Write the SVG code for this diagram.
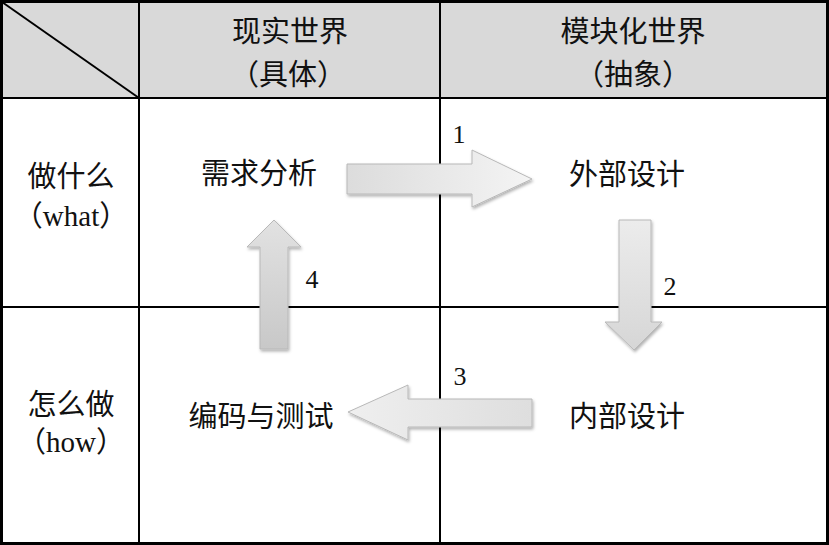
<svg xmlns="http://www.w3.org/2000/svg" width="829" height="545" viewBox="0 0 829 545">
  <style>
    .cjk { font-family: "Liberation Serif", "Noto Sans CJK SC", serif; font-size: 29px; fill: #111; text-anchor: middle; }
    .num { font-family: "Liberation Serif", serif; font-size: 26px; fill: #111; text-anchor: middle; }
    .grid { stroke: #000; stroke-width: 2; fill: none; }
    .arrow { stroke: #b8b8b8; stroke-width: 1; filter: url(#shadow); }
  </style>
  <defs>
    <linearGradient id="gH" x1="0" y1="0" x2="1" y2="0">
      <stop offset="0" stop-color="#dcdcdc"/>
      <stop offset="1" stop-color="#f4f4f4"/>
    </linearGradient>
    <linearGradient id="gHL" x1="1" y1="0" x2="0" y2="0">
      <stop offset="0" stop-color="#dedede"/>
      <stop offset="1" stop-color="#efefef"/>
    </linearGradient>
    <linearGradient id="gV" x1="0" y1="0" x2="0" y2="1">
      <stop offset="0" stop-color="#ececec"/>
      <stop offset="1" stop-color="#d6d6d6"/>
    </linearGradient>
    <linearGradient id="gVU" x1="0" y1="1" x2="0" y2="0">
      <stop offset="0" stop-color="#c8c8c8"/>
      <stop offset="1" stop-color="#e2e2e2"/>
    </linearGradient>
    <filter id="shadow" x="-20%" y="-20%" width="140%" height="140%">
      <feDropShadow dx="1" dy="2" stdDeviation="1.5" flood-color="#000" flood-opacity="0.3"/>
    </filter>
  </defs>

  <rect x="0" y="0" width="829" height="545" fill="#fff"/>
  <rect x="2" y="2" width="825" height="96" fill="#d9d9d9"/>

  <g id="grid">
    <line class="grid" x1="2" y1="2" x2="139" y2="98"/>
    <line class="grid" x1="139" y1="0" x2="139" y2="545"/>
    <line class="grid" x1="440" y1="0" x2="440" y2="545"/>
    <line class="grid" x1="0" y1="98" x2="829" y2="98" stroke-width="3"/>
    <line class="grid" x1="0" y1="307" x2="829" y2="307"/>
    <rect x="1.5" y="1.5" width="826" height="542" fill="none" stroke="#000" stroke-width="3"/>
  </g>

  <g id="headers">
    <text class="cjk" x="290" y="42">现实世界</text>
    <text class="cjk" x="288" y="85">（具体）</text>
    <text class="cjk" x="633" y="42">模块化世界</text>
    <text class="cjk" x="633" y="85">（抽象）</text>
  </g>

  <g id="rowlabels">
    <text class="cjk" x="71" y="187">做什么</text>
    <text class="cjk" x="71" y="226">（what）</text>
    <text class="cjk" x="71" y="415">怎么做</text>
    <text class="cjk" x="71" y="452">（how）</text>
  </g>

  <g id="connectors">
    <polygon class="arrow" fill="url(#gH)" points="347,164 472,164 472,150 532,179 472,207 472,194 347,194"/>
    <polygon class="arrow" fill="url(#gV)" points="619,220 651,220 651,322 662,322 634,350 605,322 619,322"/>
    <polygon class="arrow" fill="url(#gHL)" points="532,399 408,399 408,385 348,412 408,440 408,427 532,427"/>
    <polygon class="arrow" fill="url(#gVU)" points="260,349 288,349 288,247 301,247 274,220 247,247 260,247"/>
    <text class="num" x="459" y="143">1</text>
    <text class="num" x="670" y="295">2</text>
    <text class="num" x="460" y="385">3</text>
    <text class="num" x="312" y="288">4</text>
  </g>

  <g id="node-xuqiu"><text class="cjk" x="259" y="184">需求分析</text></g>
  <g id="node-waibu"><text class="cjk" x="627" y="185">外部设计</text></g>
  <g id="node-neibu"><text class="cjk" x="627" y="427">内部设计</text></g>
  <g id="node-bianma"><text class="cjk" x="261" y="427">编码与测试</text></g>
</svg>
